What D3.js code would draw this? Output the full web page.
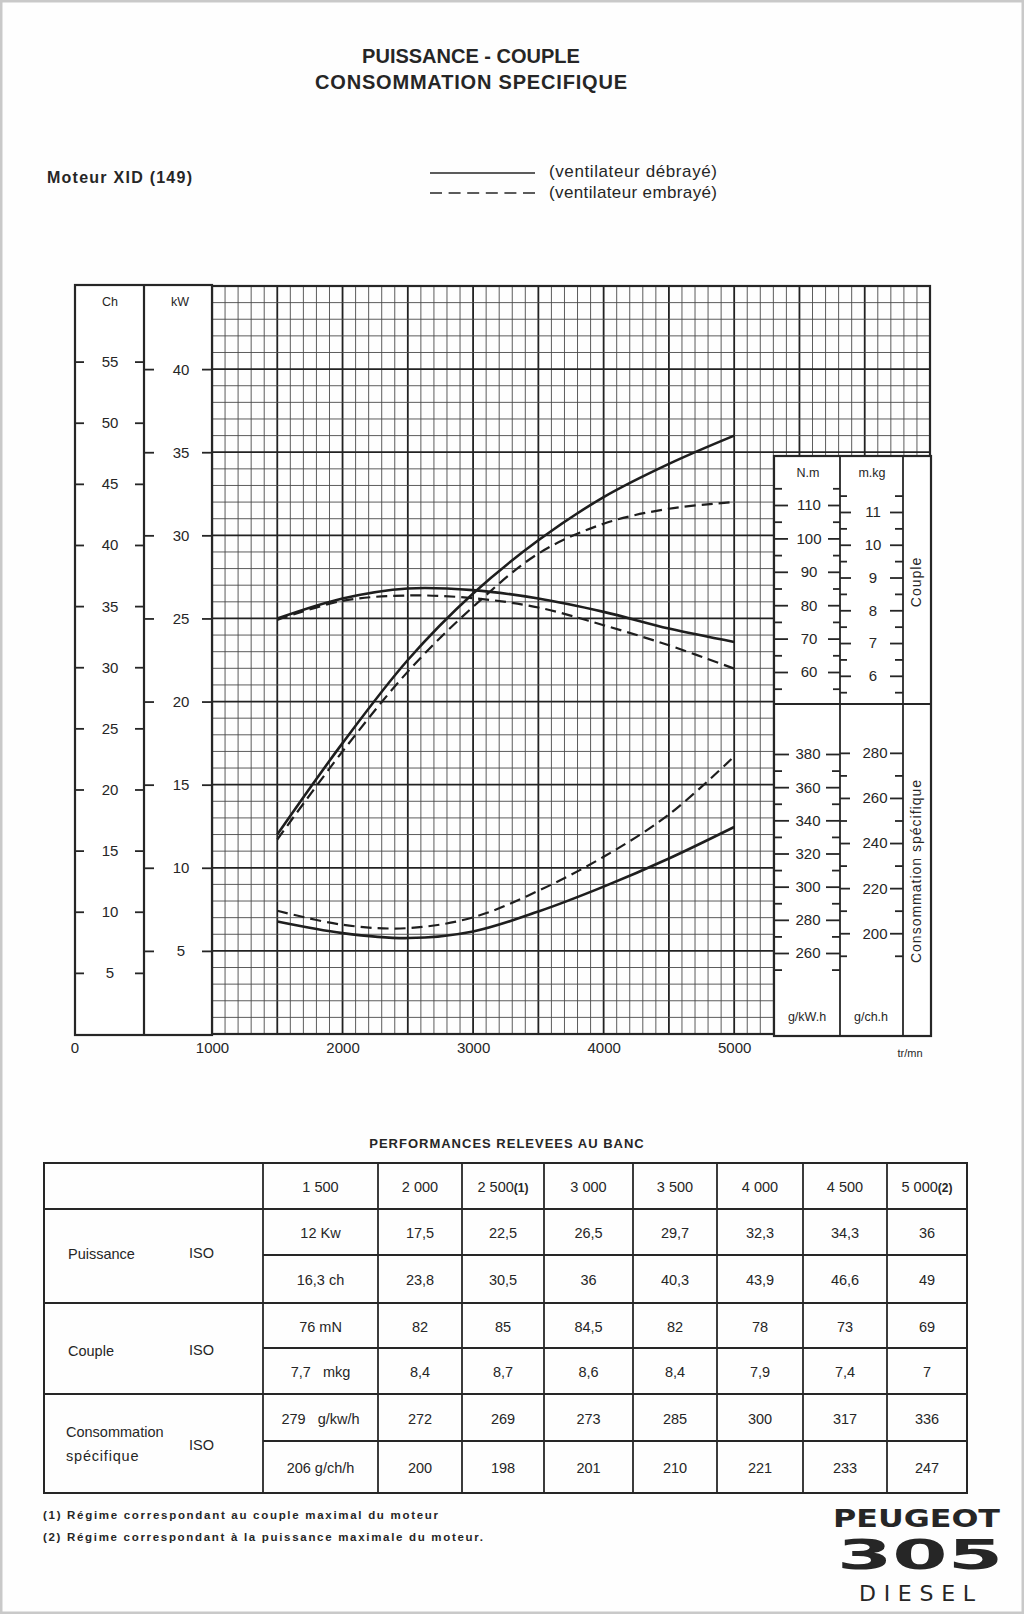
<!DOCTYPE html>
<html>
<head>
<meta charset="utf-8">
<script src="https://cdnjs.cloudflare.com/ajax/libs/d3/7.8.5/d3.min.js"></script>
<style>
body { margin: 0; background: #ffffff; }
svg text { font-family: "Liberation Sans", Arial, sans-serif; fill: #262626; }
</style>
</head>
<body>
<svg id="chart" width="1024" height="1614"></svg>
<script>
var regimes = [1500, 2000, 2500, 3000, 3500, 4000, 4500, 5000];

// ventilateur debraye (trait plein) = valeurs du tableau
var puissanceDebraye = [12, 17.5, 22.5, 26.5, 29.7, 32.3, 34.3, 36];
var coupleDebraye = [76, 82, 85, 84.5, 82, 78, 73, 69];
var consoDebraye = [279, 272, 269, 273, 285, 300, 317, 336];

// ventilateur embraye (tirets) =
var puissanceEmbraye = [11.7, 17.0, 21.8, 25.7, 28.9, 30.7, 31.6, 32.0];
var coupleEmbraye = [75.6, 81.3, 82.9, 82.1, 79.3, 74, 68, 61];
var consoEmbraye = [285.5, 277, 275, 281.5, 297.5, 318, 343.5, 378.5];

var chTicks = [5, 10, 15, 20, 25, 30, 35, 40, 45, 50, 55];
var kwTicks = [5, 10, 15, 20, 25, 30, 35, 40];
var rpmTicks = [1000, 2000, 3000, 4000, 5000];
var nmTicks = [60, 70, 80, 90, 100, 110];
var mkgTicks = [6, 7, 8, 9, 10, 11];
var gkwhTicks = [260, 280, 300, 320, 340, 360, 380];
var gchTicks = [200, 220, 240, 260, 280];

// tableau
var enteteRegimes = ["1 500", "2 000", "2 500", "3 000", "3 500", "4 000", "4 500", "5 000"];
var enteteNotes = ["", "", "(1)", "", "", "", "", "(2)"];
var ligneKw = ["12 Kw", "17,5", "22,5", "26,5", "29,7", "32,3", "34,3", "36"];
var ligneCh = ["16,3 ch", "23,8", "30,5", "36", "40,3", "43,9", "46,6", "49"];
var ligneNm = ["76 mN", "82", "85", "84,5", "82", "78", "73", "69"];
var ligneMkg = ["7,7   mkg", "8,4", "8,7", "8,6", "8,4", "7,9", "7,4", "7"];
var ligneGkwh = ["279   g/kw/h", "272", "269", "273", "285", "300", "317", "336"];
var ligneGch = ["206 g/ch/h", "200", "198", "201", "210", "221", "233", "247"];

var ink = "#262626";
var svg = d3.select("#chart");

var x = d3.scaleLinear().domain([1000, 6500]).range([212, 930]);
var yKw = d3.scaleLinear().domain([0, 45]).range([1034, 286]);
var yCh = d3.scaleLinear().domain([0, 45 / 0.7355]).range([1034, 286]);
var yNm = d3.scaleLinear().domain([60, 110]).range([672, 505]);
var yMkg = d3.scaleLinear().domain([60 / 9.81, 110 / 9.81]).range([672, 505]);
var yGkwh = d3.scaleLinear().domain([260, 380]).range([953, 754]);
var yGch = d3.scaleLinear().domain([260 * 0.7355, 380 * 0.7355]).range([953, 754]);

// bord du papier
svg.append("rect").attr("x", 1).attr("y", 1).attr("width", 1022).attr("height", 1612)
	.attr("fill", "#fefefe").attr("stroke", "#c9c9c9").attr("stroke-width", 3);

// Titres
svg.append("text").attr("x", 471).attr("y", 63).attr("text-anchor", "middle")
	.attr("font-size", 20).attr("font-weight", "bold").text("PUISSANCE - COUPLE");
svg.append("text").attr("x", 471).attr("y", 89).attr("text-anchor", "middle")
	.attr("font-size", 20).attr("font-weight", "bold").attr("textLength", 312)
	.text("CONSOMMATION SPECIFIQUE");
svg.append("text").attr("x", 47).attr("y", 183).attr("font-size", 16).attr("font-weight", "bold")
	.attr("textLength", 145).text("Moteur XID (149)");

// Legende
svg.append("line").attr("x1", 430).attr("x2", 535).attr("y1", 173).attr("y2", 173)
	.attr("stroke", ink).attr("stroke-width", 1.4);
svg.append("line").attr("x1", 430).attr("x2", 535).attr("y1", 193).attr("y2", 193)
	.attr("stroke", ink).attr("stroke-width", 1.4).attr("stroke-dasharray", "12,6.6");
svg.append("text").attr("x", 549).attr("y", 177).attr("font-size", 17)
	.attr("textLength", 168).text("(ventilateur débrayé)");
svg.append("text").attr("x", 549).attr("y", 198).attr("font-size", 17)
	.attr("textLength", 168).text("(ventilateur embrayé)");

// Quadrillage
var grid = svg.append("g");
grid.selectAll(".v").data(d3.range(1000, 6501, 100)).enter().append("line")
	.attr("x1", function(d) { return x(d); }).attr("x2", function(d) { return x(d); })
	.attr("y1", yKw(45)).attr("y2", yKw(0))
	.attr("stroke", function(d) { return d % 500 == 0 ? "#222" : "#4a4a4a"; })
	.attr("stroke-width", function(d) { return d % 500 == 0 ? 1.8 : 0.9; });
grid.selectAll(".h").data(d3.range(0, 46, 1)).enter().append("line")
	.attr("x1", x(1000)).attr("x2", x(6500))
	.attr("y1", function(d) { return yKw(d); }).attr("y2", function(d) { return yKw(d); })
	.attr("stroke", function(d) { return d % 5 == 0 ? "#222" : "#4a4a4a"; })
	.attr("stroke-width", function(d) { return d % 5 == 0 ? 1.8 : 0.9; });
svg.append("rect").attr("x", x(1000)).attr("y", yKw(45))
	.attr("width", x(6500) - x(1000)).attr("height", yKw(0) - yKw(45))
	.attr("fill", "none").attr("stroke", ink).attr("stroke-width", 2.2);

// Echelles Ch / kW a gauche
svg.append("rect").attr("x", 75).attr("y", 285).attr("width", 137).attr("height", 750)
	.attr("fill", "#fff").attr("stroke", ink).attr("stroke-width", 2.2);
svg.append("line").attr("x1", 144).attr("x2", 144).attr("y1", 285).attr("y2", 1035)
	.attr("stroke", ink).attr("stroke-width", 2.2);

// Panneaux de droite (couple, consommation)
svg.append("rect").attr("x", 774).attr("y", 456).attr("width", 157).attr("height", 580)
	.attr("fill", "#fff").attr("stroke", ink).attr("stroke-width", 2.2);
svg.append("line").attr("x1", 774).attr("x2", 931).attr("y1", 704).attr("y2", 704)
	.attr("stroke", ink).attr("stroke-width", 2.2);
[840, 903].forEach(function(px) {
	svg.append("line").attr("x1", px).attr("x2", px).attr("y1", 456).attr("y2", 1036)
		.attr("stroke", ink).attr("stroke-width", 1.8);
});

function tickMarks(axisFn, scale, values, px, len) {
	var g = svg.append("g").attr("transform", "translate(" + px + ",0)")
		.call(axisFn(scale).tickValues(values).tickSize(len).tickFormat(""));
	g.select(".domain").remove();
	g.selectAll("line").attr("stroke", ink).attr("stroke-width", 1.8);
}

function tickLabels(scale, values, cx, size) {
	svg.selectAll(null).data(values).enter().append("text")
		.attr("x", cx).attr("y", function(d) { return scale(d); })
		.attr("dy", "0.36em").attr("text-anchor", "middle").attr("font-size", size)
		.text(function(d) { return d; });
}

tickMarks(d3.axisRight, yCh, chTicks, 75, 9);
tickMarks(d3.axisLeft, yCh, chTicks, 144, 9);
tickMarks(d3.axisRight, yKw, kwTicks, 144, 10);
tickMarks(d3.axisLeft, yKw, kwTicks, 212, 10);
tickLabels(yCh, chTicks, 110, 15);
tickLabels(yKw, kwTicks, 181, 15);

var nmMinor = d3.range(55, 116, 10);
var mkgMinor = d3.range(5.5, 11.6, 1);
var gkwhMinor = d3.range(250, 381, 20);
var gchMinor = d3.range(190, 281, 20);

tickMarks(d3.axisRight, yNm, nmTicks, 774, 14);
tickMarks(d3.axisRight, yNm, nmMinor, 774, 8);
tickMarks(d3.axisLeft, yNm, nmTicks, 840, 12);
tickMarks(d3.axisLeft, yNm, nmMinor, 840, 7);
tickMarks(d3.axisRight, yMkg, mkgTicks, 840, 11);
tickMarks(d3.axisRight, yMkg, mkgMinor, 840, 7);
tickMarks(d3.axisLeft, yMkg, mkgTicks, 903, 13);
tickMarks(d3.axisLeft, yMkg, mkgMinor, 903, 8);
tickLabels(yNm, nmTicks, 809, 15);
tickLabels(yMkg, mkgTicks, 873, 15);

tickMarks(d3.axisRight, yGkwh, gkwhTicks, 774, 15);
tickMarks(d3.axisRight, yGkwh, gkwhMinor, 774, 8);
tickMarks(d3.axisLeft, yGkwh, gkwhTicks, 840, 14);
tickMarks(d3.axisLeft, yGkwh, gkwhMinor, 840, 8);
tickMarks(d3.axisRight, yGch, gchTicks, 840, 10);
tickMarks(d3.axisRight, yGch, gchMinor, 840, 7);
tickMarks(d3.axisLeft, yGch, gchTicks, 903, 13);
tickMarks(d3.axisLeft, yGch, gchMinor, 903, 8);
tickLabels(yGkwh, gkwhTicks, 808, 15);
tickLabels(yGch, gchTicks, 875, 15);

// Unites
[["Ch", 110, 306], ["kW", 180, 306], ["N.m", 808, 477], ["m.kg", 872, 477],
 ["g/kW.h", 807, 1021], ["g/ch.h", 871, 1021]].forEach(function(u) {
	svg.append("text").attr("x", u[1]).attr("y", u[2]).attr("text-anchor", "middle")
		.attr("font-size", 12.5).text(u[0]);
});
svg.append("text").attr("transform", "translate(921,582) rotate(-90)")
	.attr("text-anchor", "middle").attr("font-size", 14).attr("letter-spacing", 1).text("Couple");
svg.append("text").attr("transform", "translate(921,871) rotate(-90)")
	.attr("text-anchor", "middle").attr("font-size", 14).attr("letter-spacing", 1)
	.text("Consommation spécifique");

// Axe des regimes
var xAxis = svg.append("g").attr("transform", "translate(0,1038)")
	.call(d3.axisBottom(x).tickValues(rpmTicks).tickSize(0).tickPadding(4).tickFormat(d3.format("d")));
xAxis.select(".domain").remove();
xAxis.selectAll("text").attr("font-size", 15).attr("font-family", "Liberation Sans, Arial, sans-serif")
	.attr("fill", ink);
svg.append("text").attr("x", 75).attr("y", 1053).attr("text-anchor", "middle")
	.attr("font-size", 15).text("0");
svg.append("text").attr("x", 910).attr("y", 1057).attr("text-anchor", "middle")
	.attr("font-size", 11).text("tr/mn");

// Courbes
function courbe(values, scale, dashed) {
	var line = d3.line()
		.x(function(d, i) { return x(regimes[i]); })
		.y(function(d) { return scale(d); })
		.curve(d3.curveCatmullRom.alpha(0.5));
	svg.append("path").datum(values).attr("d", line)
		.attr("fill", "none").attr("stroke", "#1e1e1e")
		.attr("stroke-width", dashed ? 2.2 : 2.6)
		.attr("stroke-dasharray", dashed ? "11,6" : null);
}

courbe(puissanceDebraye, yKw, false);
courbe(puissanceEmbraye, yKw, true);
courbe(coupleDebraye, yNm, false);
courbe(coupleEmbraye, yNm, true);
courbe(consoDebraye, yGkwh, false);
courbe(consoEmbraye, yGkwh, true);

// Tableau des performances
var colX = [44, 263, 378, 462, 544, 633, 717, 803, 887, 967];
var rowY = [1163, 1209, 1255, 1303, 1348, 1394, 1441, 1493];

svg.append("text").attr("x", 507).attr("y", 1148).attr("text-anchor", "middle")
	.attr("font-size", 13).attr("font-weight", "bold").attr("letter-spacing", 1)
	.text("PERFORMANCES RELEVEES AU BANC");

var table = svg.append("g");
table.append("rect").attr("x", colX[0]).attr("y", rowY[0])
	.attr("width", colX[9] - colX[0]).attr("height", rowY[7] - rowY[0])
	.attr("fill", "none").attr("stroke", ink).attr("stroke-width", 2);
table.selectAll(".col").data(colX.slice(1, 9)).enter().append("line")
	.attr("x1", function(d) { return d; }).attr("x2", function(d) { return d; })
	.attr("y1", rowY[0]).attr("y2", rowY[7]).attr("stroke", ink).attr("stroke-width", 1.8);
table.selectAll(".row").data(rowY.slice(1, 7)).enter().append("line")
	.attr("x1", function(d, i) { return i % 2 == 0 ? colX[0] : colX[1]; }).attr("x2", colX[9])
	.attr("y1", function(d) { return d; }).attr("y2", function(d) { return d; })
	.attr("stroke", ink).attr("stroke-width", 1.8);

var entete = table.selectAll(".entete").data(enteteRegimes).enter().append("text")
	.attr("x", function(d, i) { return (colX[i + 1] + colX[i + 2]) / 2; })
	.attr("y", (rowY[0] + rowY[1]) / 2 + 6).attr("text-anchor", "middle").attr("font-size", 14.5)
	.text(function(d) { return d; });
entete.append("tspan").attr("font-size", 12).attr("font-weight", "bold")
	.text(function(d, i) { return enteteNotes[i]; });

var lignes = [ligneKw, ligneCh, ligneNm, ligneMkg, ligneGkwh, ligneGch];
lignes.forEach(function(ligne, r) {
	table.selectAll(null).data(ligne).enter().append("text")
		.attr("x", function(d, i) { return (colX[i + 1] + colX[i + 2]) / 2; })
		.attr("y", (rowY[r + 1] + rowY[r + 2]) / 2 + 6)
		.attr("text-anchor", "middle").attr("font-size", 14.5).attr("xml:space", "preserve")
		.text(function(d) { return d; });
});

[["Puissance", 1259], ["Couple", 1356]].forEach(function(l) {
	table.append("text").attr("x", 68).attr("y", l[1]).attr("font-size", 14.5).text(l[0]);
	table.append("text").attr("x", 189).attr("y", l[1] - 1).attr("font-size", 14.5).text("ISO");
});
table.append("text").attr("x", 66).attr("y", 1437).attr("font-size", 14.5).text("Consommation");
table.append("text").attr("x", 66).attr("y", 1461).attr("font-size", 14.5).attr("letter-spacing", 0.8).text("spécifique");
table.append("text").attr("x", 189).attr("y", 1450).attr("font-size", 14.5).text("ISO");

// Notes
svg.append("text").attr("x", 43).attr("y", 1519).attr("font-size", 11.5).attr("font-weight", "bold")
	.attr("textLength", 395).text("(1) Régime correspondant au couple maximal du moteur");
svg.append("text").attr("x", 43).attr("y", 1541).attr("font-size", 11.5).attr("font-weight", "bold")
	.attr("textLength", 440).text("(2) Régime correspondant à la puissance maximale du moteur.");

// Logo
svg.append("text").attr("x", 833).attr("y", 1527)
	.attr("font-size", 24).attr("font-weight", "bold").attr("textLength", 167)
	.attr("lengthAdjust", "spacingAndGlyphs").style("font-family", "DejaVu Sans").text("PEUGEOT");
svg.append("text").attr("x", 837).attr("y", 1569)
	.attr("font-size", 40).attr("font-weight", "bold").attr("textLength", 166)
	.attr("lengthAdjust", "spacingAndGlyphs").style("font-family", "DejaVu Sans").text("305");
svg.append("text").attr("x", 859).attr("y", 1601).attr("font-size", 22)
	.attr("textLength", 116).style("font-family", "DejaVu Sans").attr("fill", "#333").text("DIESEL");
</script>
</body>
</html>
